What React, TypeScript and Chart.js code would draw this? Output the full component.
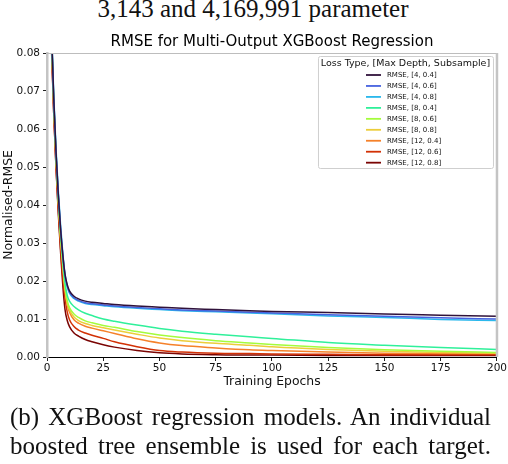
import React, { useEffect, useRef } from "react";
import { Chart, registerables } from "chart.js";

Chart.register(...registerables);

// ---- data ----
const epochs = [0, 1, 2, 3, 4, 5, 6, 7, 8, 9, 10, 12, 14, 17, 20, 25, 30, 40, 50, 60, 75, 90, 100, 125, 150, 175, 200];

const rmse_4_04 = [0.135, 0.108, 0.086, 0.068, 0.054, 0.043, 0.034, 0.027, 0.0218, 0.019, 0.0174, 0.016, 0.0153, 0.0147, 0.0144, 0.0141, 0.0138, 0.0134, 0.0131, 0.0128, 0.0125, 0.0122, 0.012, 0.0117, 0.0113, 0.011, 0.0107];
const rmse_4_06 = [0.135, 0.108, 0.086, 0.068, 0.054, 0.043, 0.034, 0.027, 0.0215, 0.0186, 0.017, 0.0156, 0.0149, 0.0143, 0.014, 0.0137, 0.0134, 0.013, 0.0127, 0.0124, 0.0121, 0.0118, 0.0116, 0.0111, 0.0107, 0.0103, 0.01];
const rmse_4_08 = [0.136, 0.109, 0.087, 0.069, 0.055, 0.044, 0.035, 0.0275, 0.0218, 0.0186, 0.0168, 0.0154, 0.0147, 0.0141, 0.0138, 0.0135, 0.0132, 0.0128, 0.0125, 0.0122, 0.0119, 0.0116, 0.0114, 0.0108, 0.0104, 0.0099, 0.0096];
const rmse_8_04 = [0.134, 0.107, 0.085, 0.067, 0.053, 0.042, 0.033, 0.0255, 0.0195, 0.0162, 0.0147, 0.0133, 0.0124, 0.0115, 0.0109, 0.01, 0.0094, 0.0084, 0.0075, 0.0068, 0.006, 0.0053, 0.0049, 0.0038, 0.0031, 0.0025, 0.002];
const rmse_8_06 = [0.134, 0.107, 0.085, 0.067, 0.053, 0.042, 0.032, 0.025, 0.0185, 0.0148, 0.013, 0.0113, 0.0104, 0.0095, 0.009, 0.0083, 0.0078, 0.0067, 0.0058, 0.0051, 0.0043, 0.0037, 0.0033, 0.0025, 0.0019, 0.0015, 0.0012];
const rmse_8_08 = [0.134, 0.107, 0.085, 0.067, 0.053, 0.042, 0.032, 0.0245, 0.018, 0.0142, 0.0124, 0.0105, 0.0096, 0.0088, 0.0083, 0.0077, 0.0071, 0.006, 0.005, 0.0043, 0.0036, 0.0031, 0.0027, 0.002, 0.0015, 0.0012, 0.001];
const rmse_12_04 = [0.133, 0.106, 0.084, 0.066, 0.052, 0.041, 0.031, 0.024, 0.0175, 0.0137, 0.0118, 0.0098, 0.0089, 0.0081, 0.0076, 0.0069, 0.0062, 0.0048, 0.0037, 0.003, 0.0024, 0.0019, 0.0017, 0.0013, 0.001, 0.0009, 0.0009];
const rmse_12_06 = [0.132, 0.104, 0.082, 0.064, 0.05, 0.039, 0.029, 0.021, 0.0155, 0.0118, 0.0098, 0.008, 0.0071, 0.0063, 0.0057, 0.0049, 0.004, 0.0027, 0.0017, 0.0013, 0.001, 0.0009, 0.0008, 0.0007, 0.0006, 0.0006, 0.0006];
const rmse_12_08 = [0.131, 0.103, 0.081, 0.064, 0.05, 0.038, 0.028, 0.019, 0.0125, 0.0096, 0.008, 0.0063, 0.0055, 0.0046, 0.004, 0.0032, 0.0026, 0.0017, 0.0011, 0.0008, 0.0006, 0.0005, 0.0005, 0.0004, 0.0004, 0.0004, 0.0004];

const seriesValues = [rmse_4_04, rmse_4_06, rmse_4_08, rmse_8_04, rmse_8_06, rmse_8_08, rmse_12_04, rmse_12_06, rmse_12_08];
const seriesLabels = [
  "RMSE, [4, 0.4]",
  "RMSE, [4, 0.6]",
  "RMSE, [4, 0.8]",
  "RMSE, [8, 0.4]",
  "RMSE, [8, 0.6]",
  "RMSE, [8, 0.8]",
  "RMSE, [12, 0.4]",
  "RMSE, [12, 0.6]",
  "RMSE, [12, 0.8]",
];
const seriesColors = ["#30123b", "#4662df", "#2bb8ec", "#2ff09a", "#a4fc3c", "#eccd3a", "#f5812a", "#d23105", "#7a0403"];

const chartTitle = "RMSE for Multi-Output XGBoost Regression";
const legendTitle = "Loss Type, [Max Depth, Subsample]";
const xAxisTitle = "Training Epochs";
const yAxisTitle = "Normalised-RMSE";
const xMin = 0, xMax = 200, xStep = 25;
const yMin = 0, yMax = 0.08, yStep = 0.01;

const topText = "3,143 and 4,169,991 parameter";
const captionLine1 = "(b) XGBoost regression models. An individual";
const captionLine2 = "boosted tree ensemble is used for each target.";

const SANS = "'DejaVu Sans', sans-serif";
const SERIF = "'Liberation Serif', 'Times New Roman', serif";

const framePlugin = {
  id: "frameAndLegend",
  afterDatasetsDraw(chart: any) {
    const { ctx, chartArea } = chart;
    const { left, right, top, bottom } = chartArea;
    ctx.save();
    // top spine
    ctx.strokeStyle = "#bdbdbd";
    ctx.lineWidth = 1;
    ctx.beginPath();
    ctx.moveTo(left, top + 0.5);
    ctx.lineTo(right, top + 0.5);
    ctx.stroke();
    // right spine
    ctx.strokeStyle = "#c4c4c4";
    ctx.lineWidth = 2.5;
    ctx.beginPath();
    ctx.moveTo(right, top);
    ctx.lineTo(right, bottom);
    ctx.stroke();

    // legend
    const boxW = 175;
    const boxH = 112;
    const x0 = right - 4 - boxW;
    const y0 = top + 3;
    ctx.fillStyle = "rgba(255,255,255,0.85)";
    ctx.strokeStyle = "#cfcfcf";
    ctx.lineWidth = 1;
    ctx.beginPath();
    if ((ctx as any).roundRect) (ctx as any).roundRect(x0 + 0.5, y0 + 0.5, boxW, boxH, 2);
    else ctx.rect(x0 + 0.5, y0 + 0.5, boxW, boxH);
    ctx.fill();
    ctx.stroke();

    ctx.fillStyle = "#111";
    ctx.font = `9.5px ${SANS}`;
    ctx.textAlign = "center";
    ctx.textBaseline = "middle";
    ctx.fillText(legendTitle, x0 + boxW / 2, y0 + 7.5);

    ctx.font = `7px ${SANS}`;
    ctx.textAlign = "left";
    chart.data.datasets.forEach((ds: any, i: number) => {
      const y = y0 + 19 + i * 10.96;
      ctx.strokeStyle = ds.borderColor;
      ctx.lineWidth = 1.8;
      ctx.beginPath();
      ctx.moveTo(x0 + 48, y);
      ctx.lineTo(x0 + 63, y);
      ctx.stroke();
      ctx.fillStyle = "#111";
      ctx.fillText(ds.label, x0 + 69, y + 0.5);
    });
    ctx.restore();
  },
};

function ChartCanvas() {
  const ref = useRef<HTMLCanvasElement | null>(null);
  useEffect(() => {
    if (!ref.current) return;
    const datasets = seriesValues.map((vals, i) => ({
      label: seriesLabels[i],
      data: epochs.map((e, j) => ({ x: e, y: vals[j] })),
      borderColor: seriesColors[i],
      backgroundColor: seriesColors[i],
      borderWidth: 1.5,
      pointRadius: 0,
      fill: false,
      cubicInterpolationMode: "monotone" as const,
    }));
    const chart = new Chart(ref.current, {
      type: "line",
      data: { datasets },
      plugins: [framePlugin],
      options: {
        animation: false,
        responsive: false,
        maintainAspectRatio: false,
        layout: { padding: { top: 33, bottom: 75, left: 0, right: 10 } },
        plugins: {
          legend: { display: false },
          tooltip: { enabled: false },
          title: {
            display: true,
            fullSize: false,
            text: chartTitle,
            color: "#000",
            font: { family: SANS, size: 15, weight: "normal" as any },
            padding: { top: 0, bottom: 2 },
          },
        },
        scales: {
          x: {
            type: "linear",
            min: xMin,
            max: xMax,
            afterFit: (scale: any) => {
              scale.height = 32;
            },
            ticks: {
              stepSize: xStep,
              color: "#111",
              font: { family: SANS, size: 10.5 },
              padding: 1,
              maxRotation: 0,
              callback: (v: any) => String(v),
            },
            grid: {
              display: true,
              drawOnChartArea: false,
              drawTicks: true,
              tickLength: 4,
              color: "#222",
              lineWidth: 1,
            },
            border: { display: true, color: "#000", width: 1 },
            title: {
              display: true,
              text: xAxisTitle,
              color: "#111",
              font: { family: SANS, size: 12.4 },
              padding: { top: 0, bottom: 0 },
            },
          },
          y: {
            type: "linear",
            min: yMin,
            max: yMax,
            afterFit: (scale: any) => {
              scale.width = 47;
            },
            ticks: {
              stepSize: yStep,
              color: "#111",
              font: { family: SANS, size: 10.5 },
              padding: 3,
              callback: (v: any) => Number(v).toFixed(2),
            },
            grid: {
              display: true,
              drawOnChartArea: false,
              drawTicks: true,
              tickLength: 4,
              color: "#222",
              lineWidth: 1,
            },
            border: { display: true, color: "#c4c4c4", width: 2.5 },
            title: {
              display: true,
              text: yAxisTitle,
              color: "#111",
              font: { family: SANS, size: 12.4 },
              padding: { top: 1, bottom: 1 },
            },
          },
        },
      },
    });
    return () => chart.destroy();
  }, []);
  return (
    <canvas
      ref={ref}
      width={508}
      height={464}
      style={{ position: "absolute", left: 0, top: 0, width: 508, height: 464 }}
    />
  );
}

export default function App() {
  const serifText: React.CSSProperties = {
    position: "absolute",
    fontFamily: SERIF,
    fontSize: "25px",
    lineHeight: "25px",
    color: "#111",
    whiteSpace: "nowrap",
  };
  const justified: React.CSSProperties = {
    ...serifText,
    left: 10,
    width: 481,
    textAlign: "justify",
    textAlignLast: "justify" as any,
    whiteSpace: "normal",
  };
  return (
    <div style={{ position: "absolute", left: 0, top: 0, width: 508, height: 464, background: "#fff", overflow: "hidden" }}>
      <div style={{ ...serifText, left: 0, width: 506, textAlign: "center", top: -3.6 }}>{topText}</div>
      <ChartCanvas />
      <div style={{ ...justified, top: 404 }}>{captionLine1}</div>
      <div style={{ ...justified, top: 433 }}>{captionLine2}</div>
    </div>
  );
}
